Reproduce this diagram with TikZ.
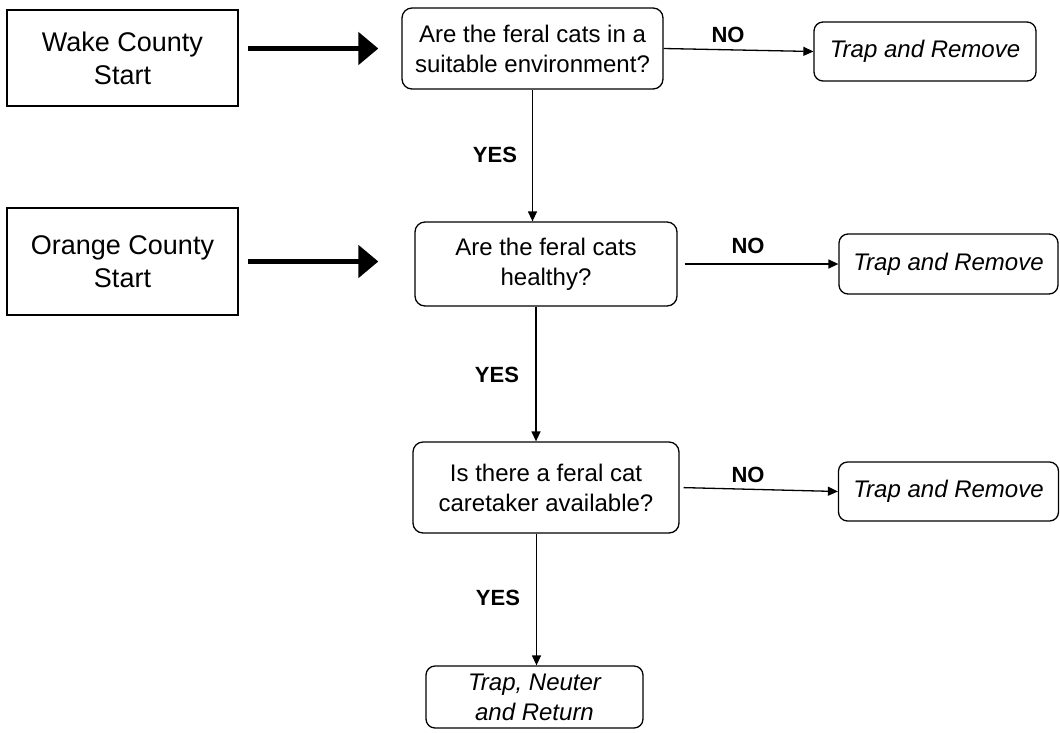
\documentclass[tikz,border=0pt]{standalone}
\usepackage{fontspec}
\setmainfont{Liberation Sans}
\usetikzlibrary{arrows.meta}
\begin{document}
\begin{tikzpicture}[x=1pt,y=-1pt,
  startbox/.style={draw, line width=1.3pt, inner sep=0pt, align=center,
    font=\fontsize{27}{33}\selectfont},
  qbox/.style={draw, line width=1.3pt, rounded corners=10pt, inner sep=0pt, align=center,
    font=\fontsize{24}{30}\selectfont},
  endbox/.style={draw, line width=1.3pt, rounded corners=9pt, inner sep=0pt, align=center,
    font=\fontsize{24}{30}\selectfont\itshape},
  lab/.style={font=\fontsize{22}{24}\selectfont\bfseries, inner sep=0pt},
  arr/.style={line width=1.3pt, -{Triangle[length=10pt,width=9pt]}},
  bigarrow/.style={line width=5pt, -{Triangle[length=20pt,width=32pt]}}]
\useasboundingbox (0,0) rectangle (1060,732);
% start boxes
\node[startbox, minimum width=231pt, minimum height=96pt] (wake) at (122.5,58) {Wake County\\Start};
\node[startbox, minimum width=231pt, minimum height=107pt] (orange) at (122.5,261.5) {Orange County\\Start};
% questions
\node[qbox, minimum width=261pt, minimum height=81pt] (q1) at (532.5,48.5) {Are the feral cats in a\\suitable environment?};
\node[qbox, minimum width=262pt, minimum height=84pt] (q2) at (546,264) {Are the feral cats\\healthy?};
\node[qbox, minimum width=266pt, minimum height=91pt] (q3) at (546,487.5) {Is there a feral cat\\caretaker available?};
% outcomes
\node[endbox, minimum width=222pt, minimum height=59pt] (tr1) at (925,51.5) {Trap and Remove};
\node[endbox, minimum width=219pt, minimum height=60pt] (tr2) at (948.5,264) {Trap and Remove};
\node[endbox, minimum width=220pt, minimum height=59pt] (tr3) at (948.5,491.5) {Trap and Remove};
\node[endbox, minimum width=217pt, minimum height=62pt] (fin) at (534.5,697) {Trap, Neuter\\and Return};
% thick start arrows
\draw[bigarrow, shorten <=9pt, shorten >=23pt] (wake.east |- q1.west) -- (q1.west);
\draw[bigarrow, shorten <=9pt, shorten >=36pt] (orange.east) -- (q2.west |- orange.east);
% NO arrows
\draw[arr] (q1.east) -- (tr1.west);
\draw[arr, shorten <=7pt] (q2.east) -- (tr2.west);
\draw[arr, shorten <=4pt] (q3.east) -- (tr3.west);
% YES arrows
\draw[arr] (q1.south) -- (q1.south |- q2.north);
\draw[arr] ([xshift=-10pt]q2.south) -- ([xshift=-10pt]q2.south |- q3.north);
\draw[arr] ([xshift=-9.5pt]q3.south) -- ([xshift=-9.5pt]q3.south |- fin.north);
% labels
\node[lab] (no1) at (728,35) {NO};
\node[lab] (no2) at (748,246) {NO};
\node[lab] (no3) at (748,475) {NO};
\node[lab] (yes1) at (495,155) {YES};
\node[lab] (yes2) at (497,375) {YES};
\node[lab] (yes3) at (498,598) {YES};
\end{tikzpicture}
\end{document}
